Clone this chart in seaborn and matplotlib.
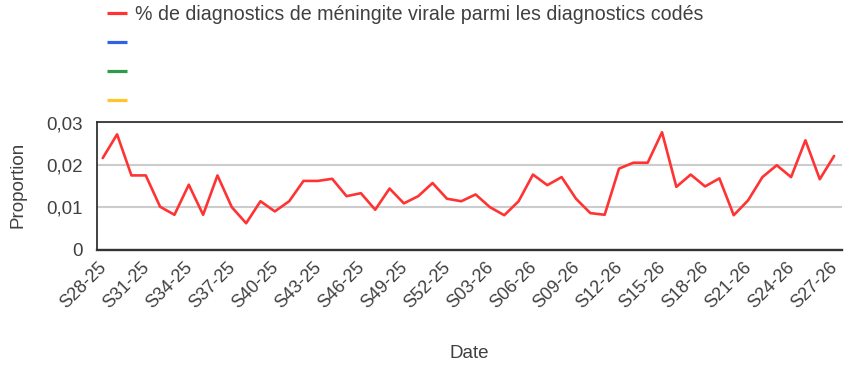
import matplotlib
matplotlib.use("Agg")
import matplotlib.pyplot as plt
import matplotlib.transforms as mtransforms
import seaborn as sns
import pandas as pd
from matplotlib.lines import Line2D
from matplotlib.ticker import FuncFormatter

sns.set_theme(style="white")
plt.rcParams["font.family"] = ["Liberation Sans", "DejaVu Sans"]

# Weekly share of viral meningitis among coded diagnoses
weeks = [
    "S28-25", "S29-25", "S30-25", "S31-25", "S32-25", "S33-25", "S34-25",
    "S35-25", "S36-25", "S37-25", "S38-25", "S39-25", "S40-25", "S41-25",
    "S42-25", "S43-25", "S44-25", "S45-25", "S46-25", "S47-25", "S48-25",
    "S49-25", "S50-25", "S51-25", "S52-25", "S01-26", "S02-26", "S03-26",
    "S04-26", "S05-26", "S06-26", "S07-26", "S08-26", "S09-26", "S10-26",
    "S11-26", "S12-26", "S13-26", "S14-26", "S15-26", "S16-26", "S17-26",
    "S18-26", "S19-26", "S20-26", "S21-26", "S22-26", "S23-26", "S24-26",
    "S25-26", "S26-26", "S27-26",
]
proportion = [
    0.0216, 0.0272, 0.0175, 0.0175, 0.0101, 0.0082, 0.0153, 0.0082, 0.0175,
    0.0100, 0.0062, 0.0114, 0.0090, 0.0114, 0.0162, 0.0162, 0.0167, 0.0126,
    0.0133, 0.0094, 0.0144, 0.0109, 0.0126, 0.0157, 0.0120, 0.0114, 0.0130,
    0.0100, 0.0081, 0.0114, 0.0177, 0.0152, 0.0171, 0.0120, 0.0086, 0.0082,
    0.0191, 0.0205, 0.0205, 0.0277, 0.0148, 0.0177, 0.0149, 0.0168, 0.0081,
    0.0116, 0.0171, 0.0199, 0.0171, 0.0258, 0.0166, 0.0221,
]
series_labels = [
    "% de diagnostics de méningite virale parmi les diagnostics codés",
    "", "", "",
]
series_colors = ["#ff3333", "#2f62e6", "#2e9a4a", "#ffc629"]
tick_step = 3

text_color = "#404040"
axis_color = "#333333"

fig = plt.figure(figsize=(8.44, 3.65), dpi=100)
W, H = 844, 365
ax = fig.add_axes([97 / W, 1 - 249.5 / H, (842 - 97) / W, 127 / H])

df = pd.DataFrame({"Date": weeks, "Proportion": proportion})
sns.lineplot(data=df, x="Date", y="Proportion", ax=ax, sort=False,
             color=series_colors[0], linewidth=1.9, zorder=3)

ax.set_xlim(-0.4, len(weeks) - 0.45)
ax.set_ylim(0, 0.03)
ax.set_yticks([0, 0.01, 0.02, 0.03])
ax.yaxis.set_major_formatter(
    FuncFormatter(lambda v, p: "0" if abs(v) < 1e-12 else f"{v:.2f}".replace(".", ","))
)
ax.set_xticks(range(0, len(weeks), tick_step))
ax.set_xticklabels(weeks[::tick_step], rotation=45, ha="right",
                   rotation_mode="anchor")

ax.yaxis.grid(True, color="#cccccc", linewidth=1.5, zorder=0)
ax.xaxis.grid(False)
ax.set_axisbelow(True)

for side in ("left", "top"):
    ax.spines[side].set_visible(True)
    ax.spines[side].set_color(axis_color)
    ax.spines[side].set_linewidth(1.3)
ax.spines["bottom"].set_color(axis_color)
ax.spines["bottom"].set_linewidth(1.7)
ax.spines["right"].set_visible(False)

ax.tick_params(axis="x", direction="inout", length=7, width=1.2,
               color=axis_color, pad=3, labelsize=13, labelcolor=text_color)
ax.tick_params(axis="y", length=0, pad=10, labelsize=13.5,
               labelcolor=text_color)

# nudge the slanted week labels a little left so the last one stays inside
shift = mtransforms.ScaledTranslation(-5 / 100, 0, fig.dpi_scale_trans)
for lbl in ax.get_xticklabels():
    lbl.set_transform(lbl.get_transform() + shift)

ax.set_xlabel("Date", fontsize=13.5, color=text_color)
ax.set_ylabel("Proportion", fontsize=13.5, color=text_color)
ax.xaxis.set_label_coords(0.5, -0.755)
ax.yaxis.set_label_coords(-0.0953, 0.506)

handles = [Line2D([], [], color=c, linewidth=2.3, solid_capstyle="butt")
           for c in series_colors]
fig.legend(handles, series_labels, loc="upper left",
           bbox_to_anchor=(107 / W, 1 - 5 / H), frameon=False,
           fontsize=14.1, labelcolor=text_color, handlelength=1.03,
           handletextpad=0.42, labelspacing=0.51, borderpad=0,
           borderaxespad=0)

fig.savefig("out.png", dpi=100)
